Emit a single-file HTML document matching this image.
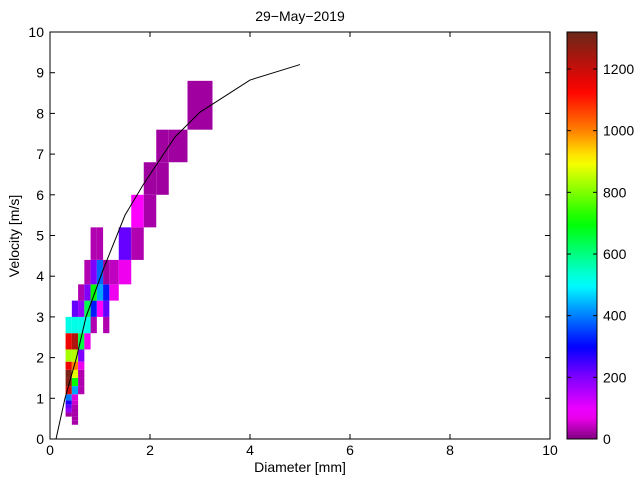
<!DOCTYPE html>
<html><head><meta charset="utf-8"><style>
body{margin:0;background:#fff;}
svg text{font-family:"Liberation Sans",sans-serif;font-size:14px;fill:#000;}
</style></head><body>
<svg id="chart" width="640" height="480" xmlns="http://www.w3.org/2000/svg">
<defs><linearGradient id="cbg" x1="0" y1="1" x2="0" y2="0"></linearGradient></defs>
<text x="300" y="21" text-anchor="middle">29−May−2019</text>
<text x="300" y="472" text-anchor="middle">Diameter [mm]</text>
<text transform="translate(19,236) rotate(-90)" text-anchor="middle">Velocity [m/s]</text>
<g id="cells"></g>
<g id="line"></g>
<g id="axes"></g>
<g id="cbar"></g>
</svg>
<script>
const dEdges=[0.312,0.437,0.562,0.687,0.812,0.937,1.062,1.187,1.375,1.625,1.875,2.125,2.375,2.75,3.25];
const vEdges=[0.35,0.45,0.55,0.65,0.75,0.85,0.95,1.1,1.3,1.5,1.7,1.9,2.2,2.6,3.0,3.4,3.8,4.4,5.2,6.0,6.8,7.6,8.8];
const cellRow=[0,1,2,2,3,3,4,4,5,5,6,6,7,7,7,8,8,8,9,9,9,10,10,10,11,11,11,12,12,12,12,
13,13,13,13,13,13,14,14,14,14,14,14,15,15,15,15,15,15,16,16,16,16,16,16,17,17,17,17,18,18,19,19,20,20,21];
const cellCol=[1,1,0,1,0,1,0,1,0,1,0,1,0,1,2,0,1,2,0,1,2,0,1,2,0,1,2,0,1,2,3,
0,1,2,3,4,6,1,2,3,4,5,6,2,3,4,5,6,7,3,4,5,6,7,8,4,5,8,9,9,10,10,11,11,12,13];
const cellVal=[25,25,20,25,180,25,220,30,280,50,400,60,1180,430,30,1280,700,30,1300,880,30,1150,1000,70,830,840,200,1150,1230,650,70,
520,520,520,520,30,30,220,180,640,320,80,220,30,200,700,430,320,70,30,200,380,20,40,70,30,30,220,30,80,25,20,20,20,20,20];
const cbTicks=[0,200,400,600,800,1000,1200];
const xTicks=[0,2,4,6,8,10];
const yTicks=[0,1,2,3,4,5,6,7,8,9,10];
const lineD=[0.12,0.3,0.53,0.72,1.06,1.5,1.86,2.5,3.0,4.0,5.0];
const lineV=[0,1,2,3,4.15,5.5,6.24,7.42,8.03,8.82,9.2];

const NS="http://www.w3.org/2000/svg";
const X0=50,X1=550,Y0=439,Y1=32,CMAX=1320;
const sx=d=>X0+(X1-X0)*d/10, sy=v=>Y0-(Y0-Y1)*v/10;
const stops=[[0,[128,0,128]],[80,[255,0,255]],[200,[128,0,255]],[300,[0,0,255]],[500,[0,255,255]],[700,[0,255,0]],[900,[255,255,0]],[1000,[255,128,0]],[1130,[255,0,0]],[1320,[105,40,25]]];
function cmap(v){v=Math.max(0,Math.min(CMAX,v));for(let i=1;i<stops.length;i++){if(v<=stops[i][0]){const a=stops[i-1],b=stops[i],t=(v-a[0])/(b[0]-a[0]);const c=a[1].map((x,k)=>Math.round(x+(b[1][k]-x)*t));return `rgb(${c})`;}}return 'rgb(105,40,25)';}
function mk(tag,attrs,parent){const e=document.createElementNS(NS,tag);for(const k in attrs)e.setAttribute(k,attrs[k]);parent.appendChild(e);return e;}
const cells=document.getElementById('cells');
const n=Math.min(cellRow.length,cellCol.length,cellVal.length);
for(let i=0;i<n;i++){
  const c=cellCol[i],r=cellRow[i];
  const x=sx(dEdges[c]),x2=sx(dEdges[c+1]),y=sy(vEdges[r+1]),y2=sy(vEdges[r]);
  const el=mk('rect',{x:x,y:y,width:x2-x,height:y2-y,fill:cmap(cellVal[i])},cells);
  
  
}
const lg=document.getElementById('line');
const pl=mk('polyline',{points:lineD.map((d,i)=>sx(d)+','+sy(lineV[i])).join(' '),fill:'none',stroke:'#000','stroke-width':1},lg);


const ax=document.getElementById('axes');
mk('rect',{x:X0,y:Y1,width:X1-X0,height:Y0-Y1,fill:'none',stroke:'#000','stroke-width':1},ax);
xTicks.forEach(t=>{const x=sx(t);mk('line',{x1:x,x2:x,y1:Y0,y2:Y0-5,stroke:'#000'},ax);mk('line',{x1:x,x2:x,y1:Y1,y2:Y1+5,stroke:'#000'},ax);
 const tx=mk('text',{x:x,y:Y0+16,'text-anchor':'middle'},ax);tx.textContent=t;
 
 });
yTicks.forEach(t=>{const y=sy(t);mk('line',{x1:X0,x2:X0+5,y1:y,y2:y,stroke:'#000'},ax);mk('line',{x1:X1,x2:X1-5,y1:y,y2:y,stroke:'#000'},ax);
 const tx=mk('text',{x:X0-6,y:y+5,'text-anchor':'end'},ax);tx.textContent=t;
 
 });
const grad=document.getElementById('cbg');
for(let i=0;i<=40;i++){const v=CMAX*i/40;mk('stop',{offset:(i/40),'stop-color':cmap(v)},grad);}
const cb=document.getElementById('cbar');
const CX=567,CW=30;
mk('rect',{x:CX,y:Y1,width:CW,height:Y0-Y1,fill:'url(#cbg)',stroke:'#000'},cb);
cbTicks.forEach(t=>{const y=Y0-(Y0-Y1)*t/CMAX;mk('line',{x1:CX+CW,x2:CX+CW-4,y1:y,y2:y,stroke:'#000'},cb);mk('line',{x1:CX,x2:CX+4,y1:y,y2:y,stroke:'#000'},cb);
 const tx=mk('text',{x:CX+CW+6,y:y+5},cb);tx.textContent=t;
 
 });
</script>
</body></html>
